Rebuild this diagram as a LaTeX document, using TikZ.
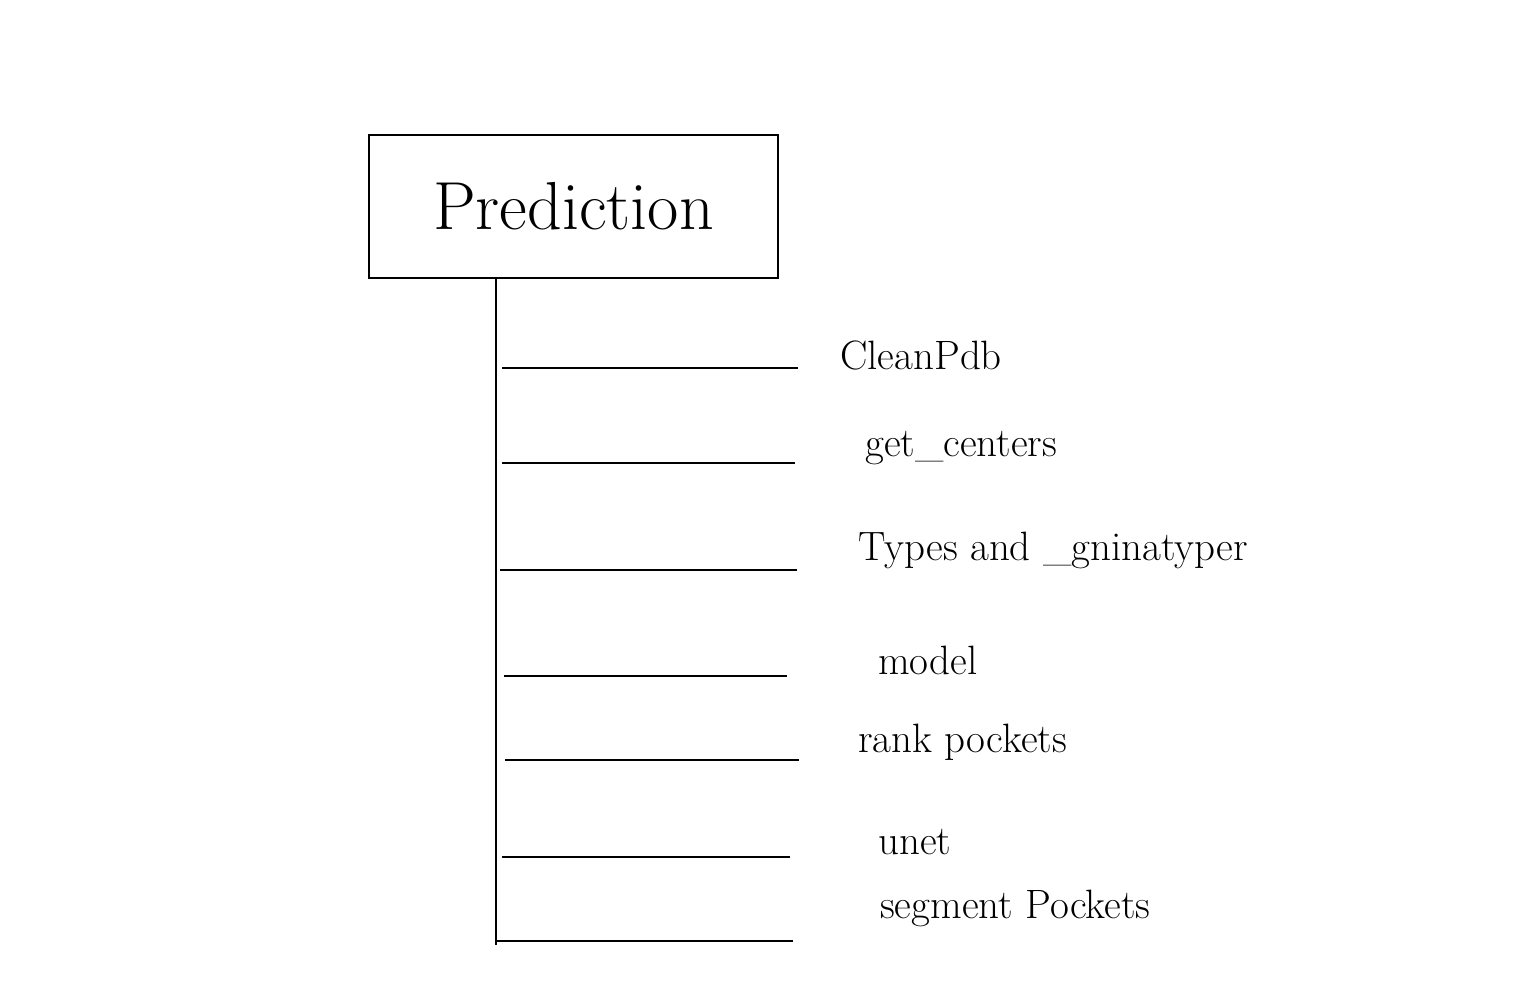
\documentclass[tikz,border=0pt]{standalone}
\usepackage{fontspec}
\usetikzlibrary{positioning}
\tikzset{
    headbox/.style={draw, line width=1.5pt, minimum width=409pt, minimum height=143pt,
        font=\fontsize{68}{72}\selectfont},
    steplabel/.style={anchor=west, inner sep=0pt, font=\fontsize{41}{44}\selectfont},
    branch/.style={line width=1.5pt}
}
\begin{document}
\begin{tikzpicture}[x=1pt, y=-1pt]
        \useasboundingbox (0,0) rectangle (1536,986);

        % Draw the header box
        \node[headbox] (pred) at (573.5,206.5) {Prediction};

        % Draw the trunk
        \coordinate (trunktop) at (496,278);
        \coordinate (trunkend) at (496,945);
        \draw[branch] (trunktop) -- (trunkend);

        % Add the steps
        \node[steplabel] (clean) at (840,355) {CleanPdb};
        \node[steplabel] (centers) at (865,448) {get\_centers};
        \node[steplabel] (types) at (858,550) {Types and \_gninatyper};
        \node[steplabel] (model) at (878,660) {model};
        \node[steplabel] (rank) at (858,742) {rank pockets};
        \node[steplabel] (unet) at (878,842) {unet};
        \node[steplabel] (segment) at (880,908) {segment Pockets};

        % Draw the branches
        \coordinate (a1) at (502,368); \coordinate (b1) at (798,368);
        \coordinate (a2) at (502,463); \coordinate (b2) at (795,463);
        \coordinate (a3) at (500,570); \coordinate (b3) at (797,570);
        \coordinate (a4) at (504,676); \coordinate (b4) at (787,676);
        \coordinate (a5) at (505,760); \coordinate (b5) at (799,760);
        \coordinate (a6) at (502,857); \coordinate (b6) at (790,857);
        \coordinate (a7) at (497,941); \coordinate (b7) at (793,941);
        \foreach \i in {1,...,7} {
            \draw[branch] (a\i) -- (b\i);
        }
    \end{tikzpicture}
\end{document}
